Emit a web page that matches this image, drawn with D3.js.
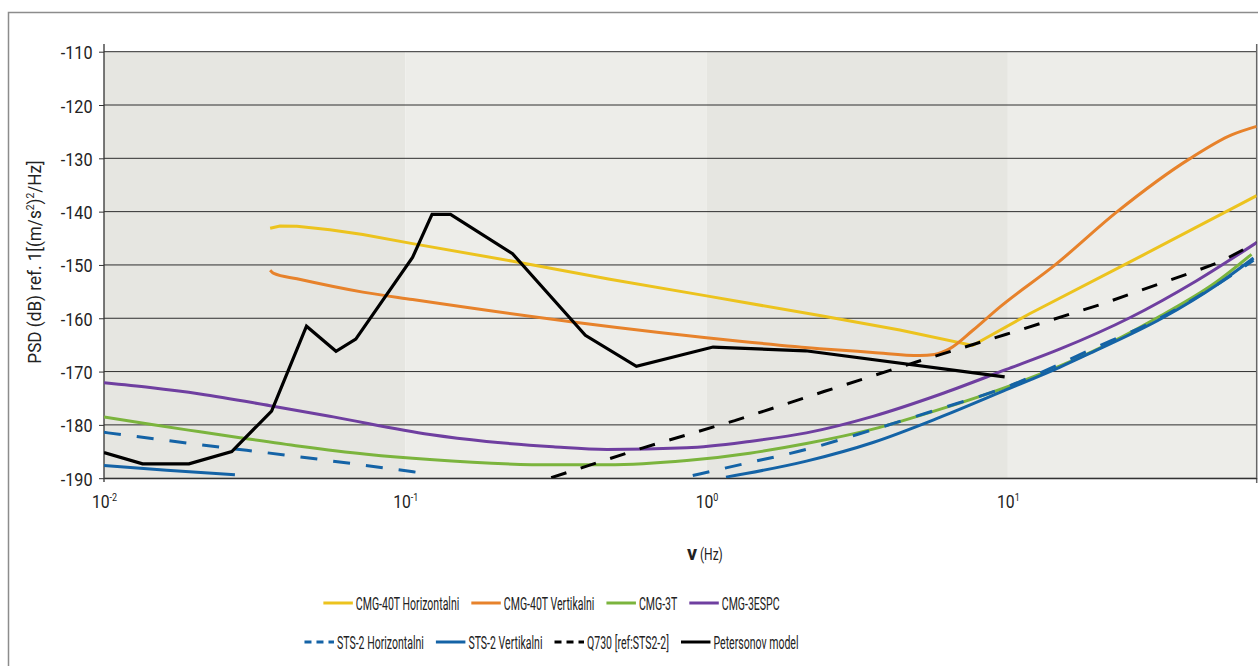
<!DOCTYPE html>
<html>
<head>
<meta charset="utf-8">
<script src="https://cdn.jsdelivr.net/npm/d3@7"></script>
<style>
  body { margin: 0; background: #ffffff; }
  svg { display: block; }
  text { font-family: Roboto, "Liberation Sans", Arial, sans-serif; fill: #222; }
</style>
</head>
<body>
<svg id="chart" width="1258" height="666"></svg>
<script>
// ---- data: frequency (Hz) and noise PSD (dB) for each instrument ----
const cmg40tHorFreq = [0.0356, 0.0384, 0.0437, 0.0562, 0.0723, 0.1057, 0.2275, 0.4774, 1.0, 2.375, 4.38, 7.64, 11.81, 28.0, 67];
const cmg40tHorPsd  = [-143.1, -142.7, -142.75, -143.4, -144.3, -146.0, -149.3, -152.7, -155.8, -159.5, -162.2, -165.1, -159.15, -148.2, -137.0];

const cmg40tVerFreq = [0.0356, 0.0366, 0.0437, 0.0723, 0.1057, 0.3597, 1.289, 2.375, 3.558, 5.10, 5.71, 6.42, 7.64, 9.40, 14.49, 22.96, 40.1, 55.3, 67];
const cmg40tVerPsd  = [-151.0, -151.6, -152.6, -155.1, -156.5, -160.7, -164.3, -165.7, -166.4, -167.0, -166.8, -165.7, -162.3, -157.9, -149.8, -140.1, -130.1, -125.6, -124.0];

const cmg3tFreq = [0.01, 0.01422, 0.02083, 0.02826, 0.0447, 0.0744, 0.1207, 0.309, 0.4666, 0.8597, 1.39, 2.145, 3.567, 5.94, 9.89, 14.85, 18.68, 31.1, 49.2, 64.4];
const cmg3tPsd  = [-178.5, -179.9, -181.3, -182.4, -184.0, -185.5, -186.5, -187.5, -187.5, -186.7, -185.3, -183.5, -180.8, -177.1, -172.9, -169.0, -166.5, -160.0, -153.2, -148.0];

const cmg3espcFreq = [0.01, 0.01422, 0.02083, 0.0356, 0.0577, 0.1207, 0.186, 0.3095, 0.4666, 0.8597, 1.39, 2.145, 3.567, 5.94, 9.89, 14.85, 25.4, 42.2, 67];
const cmg3espcPsd  = [-172.1, -173.0, -174.2, -176.4, -178.5, -181.8, -183.1, -184.1, -184.6, -184.3, -183.1, -181.5, -178.4, -174.3, -169.6, -165.8, -159.9, -153.0, -145.8];

// null marks the stretch that lies below the axis floor
const sts2HorFreq = [0.01, 0.02083, 0.0447, 0.1062, 0.1161, 0.5, 0.9, 1.306, 2.145, 3.567, 5.94, 9.89, 18.68, 32.7, 49.2, 65.4];
const sts2HorPsd  = [-181.4, -183.7, -186.0, -188.8, -189.1, null, -189.5, -187.4, -184.6, -180.9, -177.0, -172.9, -166.0, -159.7, -153.8, -149.1];

const sts2VerFreq = [0.01, 0.01615, 0.0272, 0.3, 1.16, 2.145, 3.567, 5.94, 9.89, 14.85, 18.68, 32.7, 49.2, 65.4];
const sts2VerPsd  = [-187.6, -188.5, -189.35, null, -189.8, -186.8, -183.3, -178.6, -173.4, -169.2, -166.6, -159.9, -153.8, -148.7];

const q730Freq = [0.305, 0.6157, 1.24, 2.467, 4.97, 9.89, 20.6, 40.4, 50.8, 67];
const q730Psd  = [-189.9, -184.3, -179.2, -173.7, -168.2, -163.0, -157.3, -151.5, -149.4, -145.8];

const petersonFreq = [0.01, 0.01343, 0.01914, 0.02655, 0.0360, 0.0470, 0.0589, 0.0685, 0.1057, 0.1227, 0.1413, 0.227, 0.396, 0.585, 1.051, 2.13, 9.76];
const petersonPsd  = [-185.2, -187.3, -187.3, -185.0, -177.4, -161.5, -166.2, -163.9, -148.6, -140.5, -140.5, -147.9, -163.2, -169.0, -165.4, -166.1, -171.0];

const seriesNames = ["CMG-40T Horizontalni", "CMG-40T Vertikalni", "CMG-3T", "CMG-3ESPC",
                     "STS-2 Horizontalni", "STS-2 Vertikalni", "Q730 [ref:STS2-2]", "Petersonov model"];

const yTickValues = [-110, -120, -130, -140, -150, -160, -170, -180, -190];
const xTickExponents = [-2, -1, 0, 1];
const yTitleParts = ["PSD (dB) ref. 1[(m/s", "2", ")", "2", "/Hz]"];

// ---- styling ----
const styles = [
  { color: "#ECC31E", dash: null,    legendDash: null,  curve: d3.curveLinear,     width: 3 },
  { color: "#E7822B", dash: null,    legendDash: null,  curve: d3.curveMonotoneX,  width: 3 },
  { color: "#7BB43D", dash: null,    legendDash: null,  curve: d3.curveMonotoneX,  width: 3 },
  { color: "#6F3FA0", dash: null,    legendDash: null,  curve: d3.curveMonotoneX,  width: 3 },
  { color: "#1463A6", dash: "17,16", legendDash: "7,5", curve: d3.curveMonotoneX,  width: 3 },
  { color: "#1463A6", dash: null,    legendDash: null,  curve: d3.curveMonotoneX,  width: 3 },
  { color: "#000000", dash: "16,15", legendDash: "7,5", curve: d3.curveLinear,     width: 3 },
  { color: "#000000", dash: null,    legendDash: null,  curve: d3.curveLinear,     width: 3.2 }
];

const seriesData = [
  [cmg40tHorFreq, cmg40tHorPsd], [cmg40tVerFreq, cmg40tVerPsd],
  [cmg3tFreq, cmg3tPsd], [cmg3espcFreq, cmg3espcPsd],
  [sts2HorFreq, sts2HorPsd], [sts2VerFreq, sts2VerPsd],
  [q730Freq, q730Psd], [petersonFreq, petersonPsd]
].map(([f, p], i) => ({
  name: seriesNames[i],
  style: styles[i],
  points: f.map((v, j) => ({ f: v, db: p[j] }))
}));

const svg = d3.select("#chart");

const plotLeft = 104, plotRight = 1256.7, plotTop = 51.7, plotBottom = 478.2;
const x = d3.scaleLog().domain([0.01, 67]).range([plotLeft, plotRight]);
const y = d3.scaleLinear().domain([-190, -110]).range([plotBottom, plotTop]);

// outer frame
svg.append("rect")
  .attr("x", 8.5).attr("y", 12.5).attr("width", 1300).attr("height", 700)
  .attr("fill", "none").attr("stroke", "#8c8c8c").attr("stroke-width", 1.5);

// alternating decade bands
const bandColors = ["#E6E6E1", "#EDEDE9"];
xTickExponents.forEach((e, i) => {
  const lo = Math.pow(10, e);
  const hi = Math.min(Math.pow(10, e + 1), x.domain()[1]);
  svg.append("rect")
    .attr("x", x(lo)).attr("y", y(-110))
    .attr("width", x(hi) - x(lo)).attr("height", y(-190) - y(-110))
    .attr("fill", bandColors[i % 2]);
});

// horizontal gridlines
svg.append("g").selectAll("line").data(yTickValues).join("line")
  .attr("x1", plotLeft).attr("x2", plotRight)
  .attr("y1", d => y(d)).attr("y2", d => y(d))
  .attr("stroke", "#2e2e2e").attr("stroke-width", 1);

// y axis
const yAxisG = svg.append("g").attr("transform", `translate(${plotLeft},0)`)
  .call(d3.axisLeft(y).tickValues(yTickValues).tickSize(5).tickSizeOuter(0));
yAxisG.select(".domain").remove();
yAxisG.selectAll(".tick line").attr("stroke", "#333");
yAxisG.selectAll(".tick text").remove();
yAxisG.selectAll(".tick").append("text")
  .attr("transform", "translate(-11.5,7) scale(0.9,1)")
  .attr("text-anchor", "end")
  .attr("font-size", 18)
  .attr("fill", "#222")
  .text(d => d);
svg.append("line")
  .attr("x1", plotLeft).attr("x2", plotLeft).attr("y1", 44).attr("y2", 482)
  .attr("stroke", "#333").attr("stroke-width", 1.3);
svg.append("line")
  .attr("x1", plotRight).attr("x2", plotRight).attr("y1", 44).attr("y2", 483)
  .attr("stroke", "#666").attr("stroke-width", 1.5);

// x axis
const xAxisG = svg.append("g").attr("transform", `translate(0,${plotBottom})`)
  .call(d3.axisBottom(x).tickValues(xTickExponents.map(e => Math.pow(10, e))).tickSize(0).tickSizeOuter(0));
xAxisG.select(".domain").attr("stroke", "#333").attr("stroke-width", 1.3);
xAxisG.selectAll(".tick text").remove();
const xLabels = xAxisG.selectAll(".tick").append("text")
  .attr("transform", "translate(0,29.5) scale(0.9,1)")
  .attr("text-anchor", "middle")
  .attr("font-size", 17.5)
  .attr("fill", "#222");
xLabels.append("tspan").text("10");
xLabels.append("tspan").attr("dy", -7).attr("font-size", 10).text(d => Math.round(Math.log10(d)));

// axis titles
const yTitle = svg.append("text")
  .attr("transform", "translate(40.5,262) rotate(-90) scale(0.98,1)")
  .attr("text-anchor", "middle")
  .attr("font-size", 17.5)
  .attr("fill", "#222");
yTitleParts.forEach((t, i) => {
  const isSup = i === 1 || i === 3;
  const ts = yTitle.append("tspan").text(t);
  if (isSup) ts.attr("font-size", 10.5).attr("dy", -7);
  else if (i > 0) ts.attr("dy", 7);
});

svg.append("text")
  .attr("x", 687).attr("y", 560)
  .attr("font-size", 20).attr("font-weight", "bold").attr("fill", "#222")
  .text("ν");
svg.append("text")
  .attr("transform", "translate(700,560) scale(0.75,1)")
  .attr("font-size", 16).attr("fill", "#666")
  .text("(Hz)");

// series
const clip = svg.append("clipPath").attr("id", "plot-clip");
clip.append("rect").attr("x", plotLeft).attr("y", 40)
  .attr("width", plotRight - plotLeft).attr("height", plotBottom - 40);

const seriesG = svg.append("g").attr("clip-path", "url(#plot-clip)");
seriesData.forEach(s => {
  const line = d3.line()
    .defined(d => d.db !== null)
    .x(d => x(d.f)).y(d => y(d.db))
    .curve(s.style.curve);
  seriesG.append("path")
    .datum(s.points)
    .attr("d", line)
    .attr("fill", "none")
    .attr("stroke", s.style.color)
    .attr("stroke-width", s.style.width)
    .attr("stroke-linejoin", "miter")
    .attr("stroke-dasharray", s.style.dash);
});

// legend: two centred rows
const legendRows = [[0, 1, 2, 3], [4, 5, 6, 7]];
const legendRowY = [603, 642];
const legendCenterX = 551.5, sampleLen = 29.5, textGap = 3, itemGap = 12, legendScale = 0.57;

legendRows.forEach((row, r) => {
  const rowG = svg.append("g");
  const items = row.map(i => {
    const g = rowG.append("g");
    g.append("line")
      .attr("x1", 0).attr("x2", sampleLen).attr("y1", 0).attr("y2", 0)
      .attr("stroke", styles[i].color).attr("stroke-width", 3)
      .attr("stroke-dasharray", styles[i].legendDash);
    const t = g.append("text")
      .attr("transform", `translate(${sampleLen + textGap},6.5) scale(${legendScale},1)`)
      .attr("font-size", 18.5).attr("fill", "#222")
      .text(seriesNames[i]);
    const w = sampleLen + textGap + t.node().getComputedTextLength() * legendScale;
    return { g, w };
  });
  const total = d3.sum(items, d => d.w) + itemGap * (items.length - 1);
  let cx = legendCenterX - total / 2;
  items.forEach(it => {
    it.g.attr("transform", `translate(${cx},${legendRowY[r]})`);
    cx += it.w + itemGap;
  });
});
</script>
</body>
</html>
